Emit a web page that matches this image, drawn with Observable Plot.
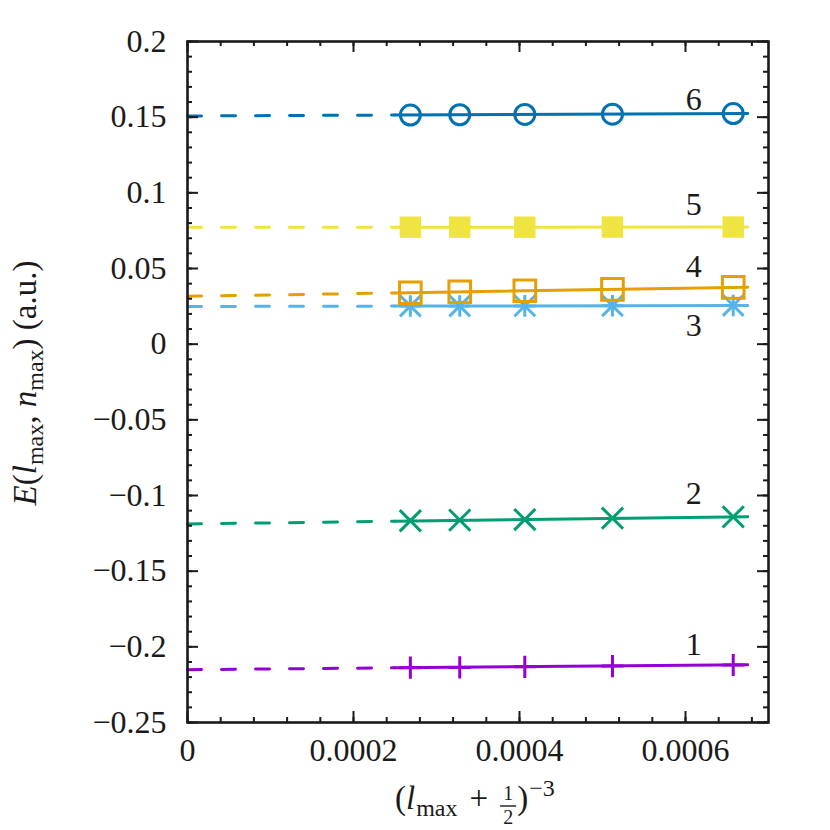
<!DOCTYPE html>
<html><head><meta charset="utf-8">
<script src="https://cdn.jsdelivr.net/npm/d3@7"></script>
<script src="https://cdn.jsdelivr.net/npm/@observablehq/plot@0.6"></script>
<style>html,body{margin:0;padding:0;background:#fff} svg{display:block}</style>
</head><body><div id="chart"></div>
<script>
// ---- data ----
const xValues = [0.0002685, 0.0003280, 0.0004064, 0.0005120, 0.0006575];
const seriesNames = ["1", "2", "3", "4", "5", "6"];
const seriesColors = ["#9400D3", "#009E73", "#56B4E9", "#E69F00", "#F0E442", "#0072B2"];
const yS1 = [-0.2138, -0.2136, -0.2132, -0.2127, -0.2120];
const yS2 = [-0.1167, -0.1163, -0.1159, -0.1150, -0.1141];
const yS3 = [0.0252, 0.0252, 0.0253, 0.0254, 0.0256];
const yS4 = [0.0340, 0.0346, 0.0353, 0.0362, 0.0375];
const yS5 = [0.0773, 0.0773, 0.0773, 0.0774, 0.0774];
const yS6 = [0.1514, 0.1516, 0.1518, 0.1520, 0.1524];
const fitIntercept = [-0.2151, -0.1188, 0.0249, 0.0316, 0.0772, 0.1508];
const fitSlope = [4.9, 7.1, 1.0, 9.0, 0.3, 2.4];
const fitStart = 0.00025, fitEnd = 0.000675;
const labelX = 0.00061;
const labelY = [-0.2052, -0.1054, 0.0051, 0.0441, 0.0851, 0.1546];
const xTicks = [0, 0.0002, 0.0004, 0.0006];
const xTickLabels = ["0", "0.0002", "0.0004", "0.0006"];
const yTicks = [-0.25, -0.2, -0.15, -0.1, -0.05, 0, 0.05, 0.1, 0.15, 0.2];
const yTickLabels = ["−0.25", "−0.2", "−0.15", "−0.1", "−0.05", "0", "0.05", "0.1", "0.15", "0.2"];
const xMinor = d3.range(0, 18).map(k => k * 0.00004);
const yMinor = d3.range(0, 46).map(k => -0.25 + k * 0.01);

// ---- build tables ----
const seriesY = [yS1, yS2, yS3, yS4, yS5, yS6];
const points = [];
seriesY.forEach((ys, si) => ys.forEach((y, i) => points.push({s: seriesNames[si], x: xValues[i], y})));
const dashed = [], solid = [];
seriesNames.forEach((s, i) => {
  const f = x => fitIntercept[i] + fitSlope[i] * x;
  dashed.push({s, x: 0, y: f(0)}, {s, x: fitStart, y: f(fitStart)});
  solid.push({s, x: fitStart, y: f(fitStart)}, {s, x: fitEnd, y: f(fitEnd)});
});
const labels = seriesNames.map((s, i) => ({s, x: labelX, y: labelY[i]}));

const W = 830, H = 830, mL = 187, mR = 62, mT = 41, mB = 108;
const pw = W - mL - mR, ph = H - mT - mB;
const fam = "'Liberation Serif','Times New Roman',Times,serif";
const ink = "#1a1a1a";

const marks = [];
seriesNames.forEach((s, i) => {
  const col = seriesColors[i];
  marks.push(Plot.line(dashed.filter(d => d.s === s), {x: "x", y: "y", stroke: col, strokeWidth: 3, strokeDasharray: "14,20"}));
  marks.push(Plot.line(solid.filter(d => d.s === s), {x: "x", y: "y", stroke: col, strokeWidth: 3}));
  const pts = points.filter(d => d.s === s);
  if (s === "3") {
    marks.push(Plot.dot(pts, {x: "x", y: "y", symbol: "plus", r: 7, stroke: col, strokeWidth: 3}));
    marks.push(Plot.dot(pts, {x: "x", y: "y", symbol: "times", r: 9.5, stroke: col, strokeWidth: 3}));
  } else if (s === "1") {
    marks.push(Plot.dot(pts, {x: "x", y: "y", symbol: "plus", r: 7.2, stroke: col, strokeWidth: 3}));
  } else if (s === "2") {
    marks.push(Plot.dot(pts, {x: "x", y: "y", symbol: "times", r: 9.7, stroke: col, strokeWidth: 3}));
  } else if (s === "4") {
    marks.push(Plot.dot(pts, {x: "x", y: "y", symbol: "square", r: 12.2, fill: "none", stroke: col, strokeWidth: 3}));
  } else if (s === "5") {
    marks.push(Plot.dot(pts, {x: "x", y: "y", symbol: "square", r: 12.1, fill: col, stroke: "none"}));
  } else {
    marks.push(Plot.dot(pts, {x: "x", y: "y", symbol: "circle", r: 10, fill: "none", stroke: col, strokeWidth: 3}));
  }
});

const chart = Plot.plot({
  width: W, height: H,
  marginLeft: mL, marginRight: mR, marginTop: mT, marginBottom: mB,
  style: {fontFamily: fam, background: "#fff", color: ink},
  x: {domain: [0, 0.0007], axis: null},
  y: {domain: [-0.25, 0.2], axis: null},
  marks: [
    ...marks,
    Plot.text(labels, {x: "x", y: "y", text: "s", fontSize: 32, fontFamily: fam, fill: ink, lineAnchor: "bottom", textAnchor: "middle"}),
    // inward ticks, all four sides
    Plot.tickX(xMinor, {x: d => d, stroke: ink, strokeWidth: 2, insetTop: ph - 5}),
    Plot.tickX(xMinor, {x: d => d, stroke: ink, strokeWidth: 2, insetBottom: ph - 5}),
    Plot.tickX(xTicks, {x: d => d, stroke: ink, strokeWidth: 2, insetTop: ph - 11}),
    Plot.tickX(xTicks, {x: d => d, stroke: ink, strokeWidth: 2, insetBottom: ph - 11}),
    Plot.tickY(yMinor, {y: d => d, stroke: ink, strokeWidth: 2, insetRight: pw - 5}),
    Plot.tickY(yMinor, {y: d => d, stroke: ink, strokeWidth: 2, insetLeft: pw - 5}),
    Plot.tickY(yTicks, {y: d => d, stroke: ink, strokeWidth: 2, insetRight: pw - 11}),
    Plot.tickY(yTicks, {y: d => d, stroke: ink, strokeWidth: 2, insetLeft: pw - 11}),
    Plot.axisX({ticks: xTicks, tickFormat: d => xTickLabels[xTicks.indexOf(d)], tickSize: 0, tickPadding: 16, fontSize: 32, fontFamily: fam, fill: ink, label: null}),
    Plot.axisY({ticks: yTicks, tickFormat: d => yTickLabels[yTicks.indexOf(d)], tickSize: 0, tickPadding: 21, fontSize: 32, fontFamily: fam, fill: ink, label: null}),
    Plot.frame({stroke: ink, strokeWidth: 2.6})
  ]
});
document.getElementById("chart").appendChild(chart);

// ---- axis titles with sub/superscripts ----
const svg = d3.select(chart.tagName.toLowerCase() === "svg" ? chart : chart.querySelector("svg"));
const base = 809;
const g = svg.append("g").attr("font-family", fam).attr("fill", ink);
function piece(x, y, size, str, italic, anchor) {
  const t = g.append("text").attr("x", x).attr("y", y).attr("font-size", size)
    .attr("text-anchor", anchor || "start").text(str);
  if (italic) t.attr("font-style", "italic");
  return t.node().getComputedTextLength();
}
let cx = 0;
cx += piece(cx, base, 33, "(", false);
cx += piece(cx, base, 33, "l", true) + 1;
cx += piece(cx, base + 7, 24, "max", false);
cx += 12;
cx += piece(cx, base, 33, "+", false);
cx += 12;
const fw = 16;
piece(cx + fw / 2, base - 9, 20, "1", false, "middle");
piece(cx + fw / 2, base + 15, 20, "2", false, "middle");
g.append("line").attr("x1", cx).attr("x2", cx + fw).attr("y1", base - 3).attr("y2", base - 3)
  .attr("stroke", ink).attr("stroke-width", 1.4);
cx += fw + 1;
cx += piece(cx, base, 33, ")", false);
cx += 1;
cx += piece(cx, base - 13, 24, "−3", false);
g.attr("transform", `translate(${395},0)`);

const yl = svg.append("text").attr("font-family", fam).attr("font-size", 33).attr("fill", ink)
  .attr("text-anchor", "middle").attr("transform", "translate(36,383) rotate(-90)");
yl.append("tspan").attr("font-style", "italic").text("E");
yl.append("tspan").text("(");
yl.append("tspan").attr("font-style", "italic").text("l");
yl.append("tspan").attr("dy", 7).attr("font-size", 24).text("max");
yl.append("tspan").attr("dy", -7).text(", ");
yl.append("tspan").attr("font-style", "italic").text("n");
yl.append("tspan").attr("dy", 7).attr("font-size", 24).text("max");
yl.append("tspan").attr("dy", -7).text(") (a.u.)");
</script>
</body></html>
